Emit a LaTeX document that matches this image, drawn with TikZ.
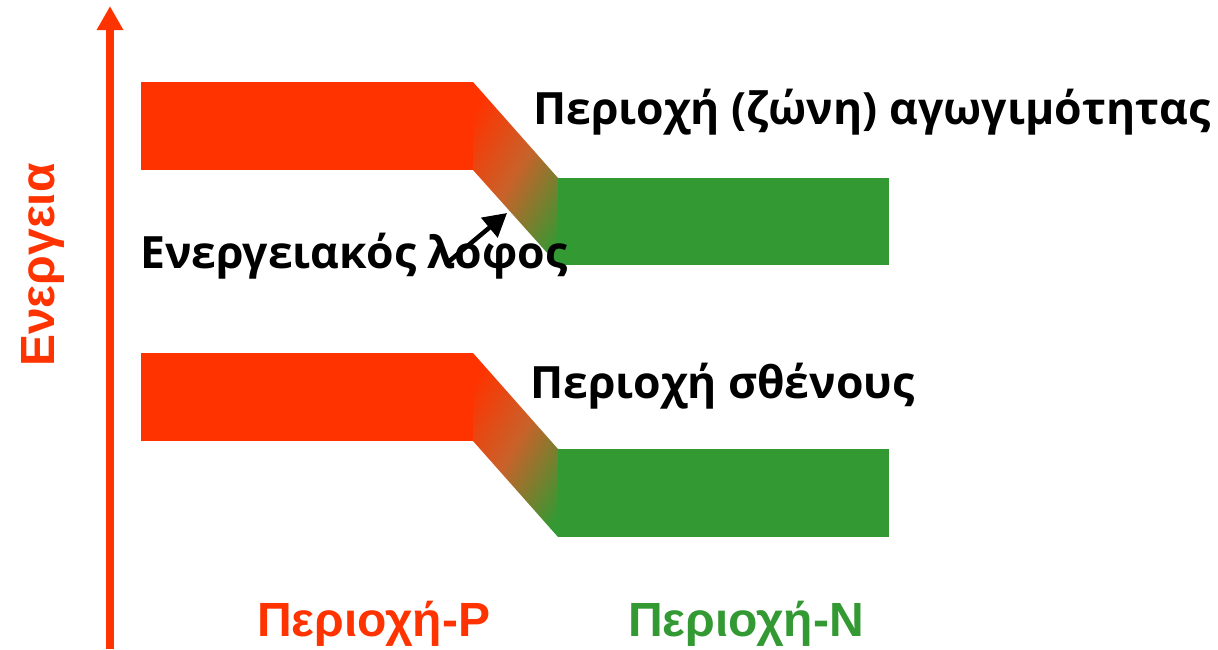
\documentclass[tikz,border=0pt]{standalone}
\usepackage{fontspec}
\setmainfont{Liberation Sans}
\newfontfamily\labelfont{Open Sans}
\usetikzlibrary{arrows.meta}
\definecolor{pred}{HTML}{FF3300}
\definecolor{ngreen}{HTML}{339933}
\definecolor{pmid}{HTML}{C8622A}
% junction gradient: red on the P side, green on the N side
\pgfdeclarehorizontalshading{junction}{100bp}{color(0bp)=(pred); color(22bp)=(pred); color(50bp)=(pmid); color(80bp)=(ngreen); color(100bp)=(ngreen)}
\tikzset{
  band/.style={fill=#1, draw=none},
  slope/.style={shading=junction, shading angle=-30, draw=none},
  bandtext/.style={anchor=base west, inner sep=0pt, font=\labelfont\bfseries\fontsize{44.5}{51}\selectfont, text=black},
  regiontext/.style={anchor=base west, inner sep=0pt, font=\bfseries\fontsize{48}{55}\selectfont},
}
\begin{document}
\begin{tikzpicture}[x=1pt, y=-1pt]
\useasboundingbox (0,0) rectangle (1218,649);

% energy axis
\coordinate (axbot) at (110,649);
\coordinate (axtop) at (110,6);
\draw[pred, line width=8pt, -{Triangle[width=25pt,length=24pt]}] (axbot) -- (axtop);
\node[rotate=90, anchor=base, inner sep=0pt, text=pred, font=\bfseries\fontsize{48}{55}\selectfont] (axlabel) at (54,265) {Ενεργεια};

% conduction band
\fill[band=pred] (141,82) rectangle (473,170);
\shade[slope] (473,82) -- (558,178) -- (558,265) -- (473,170) -- cycle;
\fill[band=ngreen] (558,178) rectangle (889,265);

% valence band
\fill[band=pred] (141,353) rectangle (473,441);
\shade[slope] (473,353) -- (558,449) -- (558,537) -- (473,441) -- cycle;
\fill[band=ngreen] (558,449) rectangle (889,537);

% labels
\node[bandtext] (cond) at (533,124) {Περιοχή (ζώνη) αγωγιμότητας};
\node[bandtext] (hill) at (140,268) {Ενεργειακός λοφος};
\node[bandtext] (val) at (530,398) {Περιοχή σθένους};
\node[regiontext, text=pred] (preg) at (257,636) {Περιοχή-P};
\node[regiontext, text=ngreen] (nreg) at (628,636) {Περιοχή-N};

% barrier arrow
\coordinate (hilltail) at (447,263);
\coordinate (hillhead) at (507,213);
\draw[line width=4.5pt, -{Triangle[width=25pt,length=23pt]}] (hilltail) -- (hillhead);
\end{tikzpicture}
\end{document}
